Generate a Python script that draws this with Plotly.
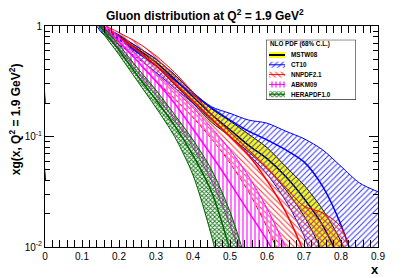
import plotly.graph_objects as go

# ---------------- data ----------------
HERA_X = [0.0, 0.004, 0.1, 0.15, 0.2, 0.25, 0.3, 0.35, 0.4, 0.45, 0.5, 0.55, 0.6]
HERA_LO = [0.2, 5, 2.0, 0.933, 0.55, 0.316, 0.182, 0.1, 0.0447, 0.0126, 0.0025, 0.0005, 0.0001]
HERA_MID = [0.2, 5, 2.2, 1.0, 0.603, 0.355, 0.214, 0.126, 0.0676, 0.0316, 0.0093, 0.002, 0.0004]
HERA_HI = [0.2, 5, 2.4, 1.07, 0.676, 0.417, 0.263, 0.158, 0.0933, 0.0501, 0.0209, 0.0063, 0.0016]

ABKM_X = [0.1, 0.15, 0.2, 0.25, 0.3, 0.35, 0.4, 0.45, 0.5, 0.55, 0.6, 0.65, 0.7]
ABKM_LO = [2.2, 1.0, 0.631, 0.38, 0.234, 0.141, 0.0794, 0.0398, 0.0158, 0.005, 0.0015, 0.0005, 0.0001]
ABKM_MID = [2.4, 1.05, 0.724, 0.479, 0.316, 0.2, 0.117, 0.0676, 0.038, 0.0209, 0.0115, 0.0056, 0.0025]
ABKM_HI = [2.6, 1.12, 0.794, 0.537, 0.372, 0.263, 0.182, 0.12, 0.0759, 0.0437, 0.0224, 0.01, 0.004]

NNPDF_X = [0.0, 0.004, 0.1, 0.15, 0.2, 0.25, 0.3, 0.35, 0.4, 0.45, 0.5, 0.55, 0.6, 0.65, 0.7, 0.75, 0.8, 0.85]
NNPDF_LO = [0.001, 5, 2.2, 1.0, 0.708, 0.479, 0.316, 0.219, 0.148, 0.0955, 0.0575, 0.0316, 0.0151, 0.0063, 0.0025, 0.001, 0.0004, 0.0001]
NNPDF_MID = [0.001, 5, 2.3, 1.05, 0.794, 0.603, 0.437, 0.302, 0.209, 0.145, 0.1, 0.0676, 0.0398, 0.0209, 0.0089, 0.0032, 0.001, 0.0003]
NNPDF_HI = [0.001, 5, 2.5, 1.1, 0.871, 0.708, 0.537, 0.38, 0.251, 0.158, 0.11, 0.0759, 0.0525, 0.0347, 0.0234, 0.0204, 0.0151, 0.004]

MSTW_X = [0.0, 0.004, 0.1, 0.15, 0.2, 0.25, 0.3, 0.35, 0.4, 0.45, 0.5, 0.55, 0.6, 0.65, 0.7, 0.75, 0.8, 0.85]
MSTW_LO = [0.04, 5, 2.2, 0.977, 0.759, 0.589, 0.437, 0.295, 0.2, 0.135, 0.1, 0.0724, 0.0513, 0.0331, 0.0191, 0.0089, 0.0032, 0.001]
MSTW_MID = [0.04, 5, 2.3, 1.0, 0.794, 0.617, 0.468, 0.331, 0.229, 0.158, 0.115, 0.0832, 0.0631, 0.0437, 0.0275, 0.0158, 0.0071, 0.0025]
MSTW_HI = [0.04, 5, 2.4, 1.02, 0.813, 0.646, 0.501, 0.363, 0.251, 0.178, 0.138, 0.105, 0.0794, 0.0537, 0.0363, 0.0219, 0.0112, 0.004]

CT10_X = [0.1, 0.15, 0.2, 0.25, 0.3, 0.35, 0.4, 0.45, 0.5, 0.55, 0.6, 0.65, 0.7, 0.75, 0.8, 0.85, 0.9]
CT10_LO = [2.0, 0.891, 0.676, 0.513, 0.38, 0.275, 0.2, 0.141, 0.1, 0.0692, 0.0457, 0.0263, 0.0126, 0.004, 0.0013, 0.0004, 0.0001]
CT10_MID = [2.2, 1.0, 0.759, 0.575, 0.437, 0.324, 0.24, 0.182, 0.141, 0.112, 0.0933, 0.0759, 0.0589, 0.0355, 0.0158, 0.005, 0.001]
CT10_HI = [2.4, 1.05, 0.832, 0.646, 0.501, 0.363, 0.251, 0.186, 0.162, 0.141, 0.132, 0.112, 0.0955, 0.0759, 0.0537, 0.038, 0.0316]

X_TICKS = [0, 0.1, 0.2, 0.3, 0.4, 0.5, 0.6, 0.7, 0.8, 0.9]
X_TICK_TEXT = ["0", "0.1", "0.2", "0.3", "0.4", "0.5", "0.6", "0.7", "0.8", "0.9"]
Y_TICKS = [0.01, 0.1, 1]
Y_TICK_TEXT = ["10<sup>-2</sup>", "10<sup>-1</sup>", "1"]
Y_MINOR_TICKS = [0.02, 0.03, 0.04, 0.05, 0.06, 0.07, 0.08, 0.09,
                 0.2, 0.3, 0.4, 0.5, 0.6, 0.7, 0.8, 0.9]

TITLE = "Gluon distribution at Q<sup>2</sup> = 1.9 GeV<sup>2</sup>"
Y_TITLE = "xg(x, Q<sup>2</sup> = 1.9 GeV<sup>2</sup>)"
X_TITLE = "x"
LEGEND_TITLE = "NLO PDF (68% C.L.)"
LEGEND_NAMES = ["MSTW08", "CT10", "NNPDF2.1", "ABKM09", "HERAPDF1.0"]

FONT = "Liberation Sans, Arial, sans-serif"

PAT_CT10 = dict(shape="/", fgcolor="#3333ff", bgcolor="rgba(0,0,0,0)", size=4, solidity=0.25,
                fillmode="replace")
PAT_NNPDF = dict(shape="\\", fgcolor="#ff3333", bgcolor="rgba(0,0,0,0)", size=4, solidity=0.25,
                 fillmode="replace")
PAT_ABKM = dict(shape="|", fgcolor="#ff66ff", bgcolor="rgba(0,0,0,0)", size=4, solidity=0.45,
                fillmode="replace")
PAT_HERA = dict(shape="x", fgcolor="#1f7a1f", bgcolor="rgba(0,0,0,0)", size=3, solidity=0.5,
                fillmode="replace")

fig = go.Figure()


def add_band(x, lo, mid, hi, color, edge_color, pattern=None, fill_solid=None,
             mid_width=1.5, edge_width=1.0):
    fig.add_trace(go.Scatter(x=x, y=lo, mode="lines", showlegend=False,
                             line=dict(color=edge_color, width=edge_width, shape="spline",
                                       smoothing=0.8), hoverinfo="skip"))
    kw = dict(fillcolor=fill_solid) if fill_solid else dict(fillcolor="rgba(0,0,0,0)",
                                                            fillpattern=pattern)
    fig.add_trace(go.Scatter(x=x, y=hi, mode="lines", showlegend=False, fill="tonexty",
                             line=dict(color=edge_color, width=edge_width, shape="spline",
                                       smoothing=0.8), hoverinfo="skip", **kw))
    fig.add_trace(go.Scatter(x=x, y=mid, mode="lines", showlegend=False,
                             line=dict(color=color, width=mid_width, shape="spline",
                                       smoothing=0.8), hoverinfo="skip"))


add_band(MSTW_X, MSTW_LO, MSTW_MID, MSTW_HI, "black", "black", fill_solid="#ffff00")
add_band(CT10_X, CT10_LO, CT10_MID, CT10_HI, "#0000ff", "#0000ff", PAT_CT10)
add_band(NNPDF_X, NNPDF_LO, NNPDF_MID, NNPDF_HI, "#ff0000", "#ff0000", PAT_NNPDF)
add_band(ABKM_X, ABKM_LO, ABKM_MID, ABKM_HI, "#ff00ff", "#ff00ff", PAT_ABKM)
add_band(HERA_X, HERA_LO, HERA_MID, HERA_HI, "#006400", "#006400", PAT_HERA)

# ---------------- custom legend on its own small axes (pixel-like units) ----------------
LEG_ROWS = [51.5, 61.5, 71.5, 81.5, 91.5]
SW_X0, SW_X1, SW_H = 269, 285, 3
leg_styles = [
    (dict(fillcolor="#ffff00"), "black", 2.0),
    (dict(fillcolor="rgba(0,0,0,0)", fillpattern=PAT_CT10), "#0000ff", 1.0),
    (dict(fillcolor="rgba(0,0,0,0)", fillpattern=PAT_NNPDF), "#ff0000", 1.0),
    (dict(fillcolor="rgba(0,0,0,0)", fillpattern=PAT_ABKM), "#ff00ff", 1.0),
    (dict(fillcolor="rgba(0,0,0,0)", fillpattern=PAT_HERA), "#006400", 1.0),
]
for yc, (fkw, lc, lw) in zip(LEG_ROWS, leg_styles):
    fig.add_trace(go.Scatter(x=[SW_X0, SW_X1, SW_X1, SW_X0, SW_X0],
                             y=[yc - SW_H, yc - SW_H, yc + SW_H, yc + SW_H, yc - SW_H],
                             mode="lines", fill="toself", line=dict(width=0, color=lc),
                             showlegend=False, hoverinfo="skip", xaxis="x2", yaxis="y2", **fkw))
    fig.add_trace(go.Scatter(x=[SW_X0, SW_X1], y=[yc, yc], mode="lines",
                             line=dict(color=lc, width=lw), showlegend=False,
                             hoverinfo="skip", xaxis="x2", yaxis="y2"))

axis_common = dict(showline=True, linecolor="black", linewidth=1, mirror="allticks",
                   ticks="inside", tickcolor="black", showgrid=False, zeroline=False,
                   tickfont=dict(family=FONT, size=10, color="black"))

fig.update_layout(
    xaxis=dict(range=[0, 0.9], tickvals=X_TICKS, ticktext=X_TICK_TEXT, ticklen=7,
               minor=dict(ticks="inside", ticklen=4, dtick=0.02, tickcolor="black",
                          showgrid=False), **axis_common),
    yaxis=dict(type="log", range=[-2, 0], tickvals=Y_TICKS, ticktext=Y_TICK_TEXT, ticklen=9,
               **axis_common),
    # overlay axis carrying only the short minor ticks of the log scale
    yaxis3=dict(type="log", range=[-2, 0], overlaying="y", anchor="x", side="left",
                tickmode="array", tickvals=Y_MINOR_TICKS, showticklabels=False,
                ticks="inside", ticklen=5, tickcolor="black", mirror="allticks",
                showline=False, showgrid=False, zeroline=False, fixedrange=True),
    xaxis2=dict(domain=[0.6637, 0.9339], range=[266, 356], anchor="y2", visible=False,
                fixedrange=True),
    yaxis2=dict(domain=[0.6667, 0.9378], range=[97, 36], anchor="x2", visible=False,
                fixedrange=True),
)

# an empty trace so the overlay axis is drawn
fig.add_trace(go.Scatter(x=[None], y=[None], yaxis="y3", xaxis="x", showlegend=False,
                         hoverinfo="skip", mode="lines"))

legend_ann = [dict(text="<b>" + LEGEND_TITLE + "</b>", x=268, y=40.8, xref="x2", yref="y2",
                   showarrow=False, xanchor="left", yanchor="middle",
                   font=dict(family=FONT, size=6.3, color="black"))]
for yc, nm in zip(LEG_ROWS, LEGEND_NAMES):
    legend_ann.append(dict(text="<b>" + nm + "</b>", x=289, y=yc, xref="x2", yref="y2",
                           showarrow=False, xanchor="left", yanchor="middle",
                           font=dict(family=FONT, size=6.3, color="black")))

fig.update_layout(
    width=399, height=270,
    margin=dict(l=37, r=29, t=14, b=31),
    paper_bgcolor="white", plot_bgcolor="white",
    font=dict(family=FONT, color="black"),
    showlegend=False,
    shapes=[dict(type="rect", xref="x2", yref="y2", x0=266, x1=356, y0=36, y1=97,
                 line=dict(color="black", width=1), fillcolor="rgba(0,0,0,0)", layer="above")],
    annotations=[
        dict(text="<b>" + TITLE + "</b>", x=0.48, y=1.05, xref="paper", yref="paper",
             showarrow=False, font=dict(family=FONT, size=12, color="black"),
             xanchor="center", yanchor="middle"),
        dict(text="<b>" + Y_TITLE + "</b>", x=-0.09, y=0.578, xref="paper", yref="paper",
             showarrow=False, textangle=-90, font=dict(family=FONT, size=12, color="black"),
             xanchor="center", yanchor="middle"),
        dict(text="<b>" + X_TITLE + "</b>", x=0.991, y=-0.102, xref="paper", yref="paper",
             showarrow=False, font=dict(family=FONT, size=13, color="black"),
             xanchor="center", yanchor="middle"),
    ] + legend_ann,
)

fig.write_html("out.html")
